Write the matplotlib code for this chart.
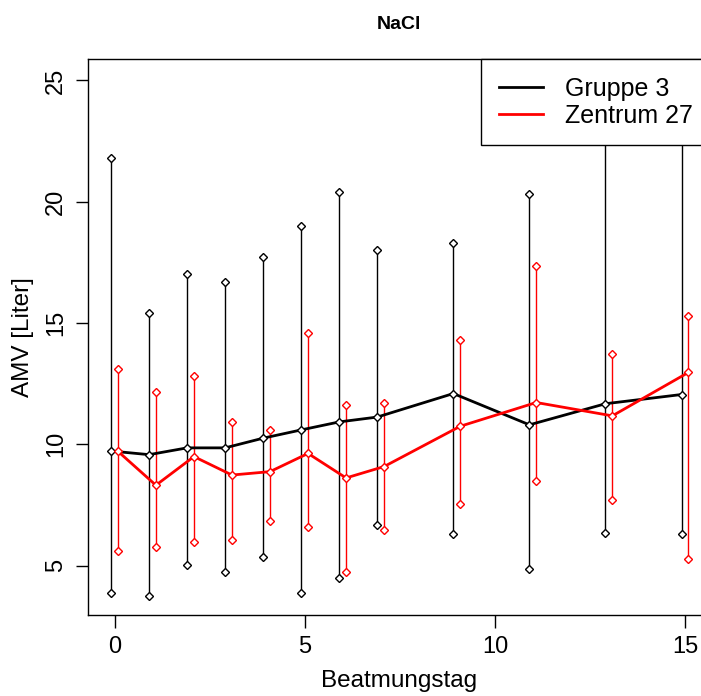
import numpy as np
import matplotlib.pyplot as plt

plt.rcParams['font.family'] = ['Liberation Sans', 'DejaVu Sans']

# Beatmungstage
tage = [0, 1, 2, 3, 4, 5, 6, 7, 9, 11, 13, 15]

# Gruppe 3: Mittelwert, Minimum, Maximum
gruppe_mean = [9.72, 9.57, 9.85, 9.85, 10.25, 10.59, 10.92, 11.12, 12.09, 10.80, 11.67, 12.05]
gruppe_low = [3.86, 3.76, 5.04, 4.74, 5.36, 3.86, 4.48, 6.68, 6.28, 4.86, 6.36, 6.28]
gruppe_high = [21.8, 15.39, 17.0, 16.7, 17.7, 19.0, 20.4, 18.0, 18.3, 20.3, 26.9, 27.8]

# Zentrum 27: Mittelwert, Minimum, Maximum
zentrum_mean = [9.71, 8.31, 9.49, 8.73, 8.87, 9.62, 8.61, 9.08, 10.74, 11.72, 11.17, 12.96]
zentrum_low = [5.58, 5.76, 5.98, 6.05, 6.85, 6.58, 4.74, 6.46, 7.55, 8.47, 7.69, 5.26]
zentrum_high = [13.11, 12.17, 12.8, 10.91, 10.59, 14.59, 11.61, 11.71, 14.3, 17.33, 13.72, 15.3]

fig = plt.figure(figsize=(7.01, 6.96), dpi=100)
ax = fig.add_axes([0.1255, 0.1164, 0.888, 0.7984])

def zeichne(x, mean, low, high, farbe, label):
    x = np.array(x)
    # Spannweite als senkrechte Linien
    for xi, lo, hi in zip(x, low, high):
        ax.plot([xi, xi], [lo, hi], color=farbe, lw=1, zorder=2)
    ax.plot(x, low, ls='none', marker='D', ms=4, mfc='white', mec=farbe, mew=1, zorder=3)
    ax.plot(x, high, ls='none', marker='D', ms=4, mfc='white', mec=farbe, mew=1, zorder=3)
    ax.plot(x, mean, color=farbe, lw=2, marker='D', ms=4, mfc='white', mec=farbe, mew=1,
            label=label, zorder=4)

zeichne(np.array(tage) - 0.1, gruppe_mean, gruppe_low, gruppe_high, 'black', 'Gruppe 3')
zeichne(np.array(tage) + 0.08, zentrum_mean, zentrum_low, zentrum_high, '#ff0000', 'Zentrum 27')

ax.set_xlim(-0.706, 15.66)
ax.set_ylim(2.96, 25.87)
ax.set_xticks([0, 5, 10, 15])
ax.set_yticks([5, 10, 15, 20, 25])
ax.tick_params(axis='both', labelsize=17, length=9, width=1, pad=6)
for lab in ax.get_yticklabels():
    lab.set_rotation(90)
    lab.set_va('center')

for side in ['top', 'right']:
    ax.spines[side].set_visible(False)
ax.spines['left'].set_linewidth(1)
ax.spines['bottom'].set_linewidth(1)

# Rahmen des Plotbereichs
ax.plot([0, 1, 1], [1, 1, 0], transform=ax.transAxes, color='black', lw=1, clip_on=False)

ax.set_xlabel('Beatmungstag', fontsize=17.5, labelpad=9)
ax.set_ylabel('AMV [Liter]', fontsize=17.5, labelpad=8)
ax.set_title('NaCl', fontsize=14, fontweight='bold', pad=22)

leg = ax.legend(loc='upper right', fontsize=18, borderaxespad=0, frameon=True, fancybox=False,
                borderpad=0.7, labelspacing=0.12, handlelength=1.75, handletextpad=0.9)
leg.get_frame().set_edgecolor('black')
leg.get_frame().set_linewidth(1)
leg.get_frame().set_alpha(1)
for h in leg.get_lines():
    h.set_marker('')
leg.set_zorder(10)

plt.savefig('out.png', dpi=100)
